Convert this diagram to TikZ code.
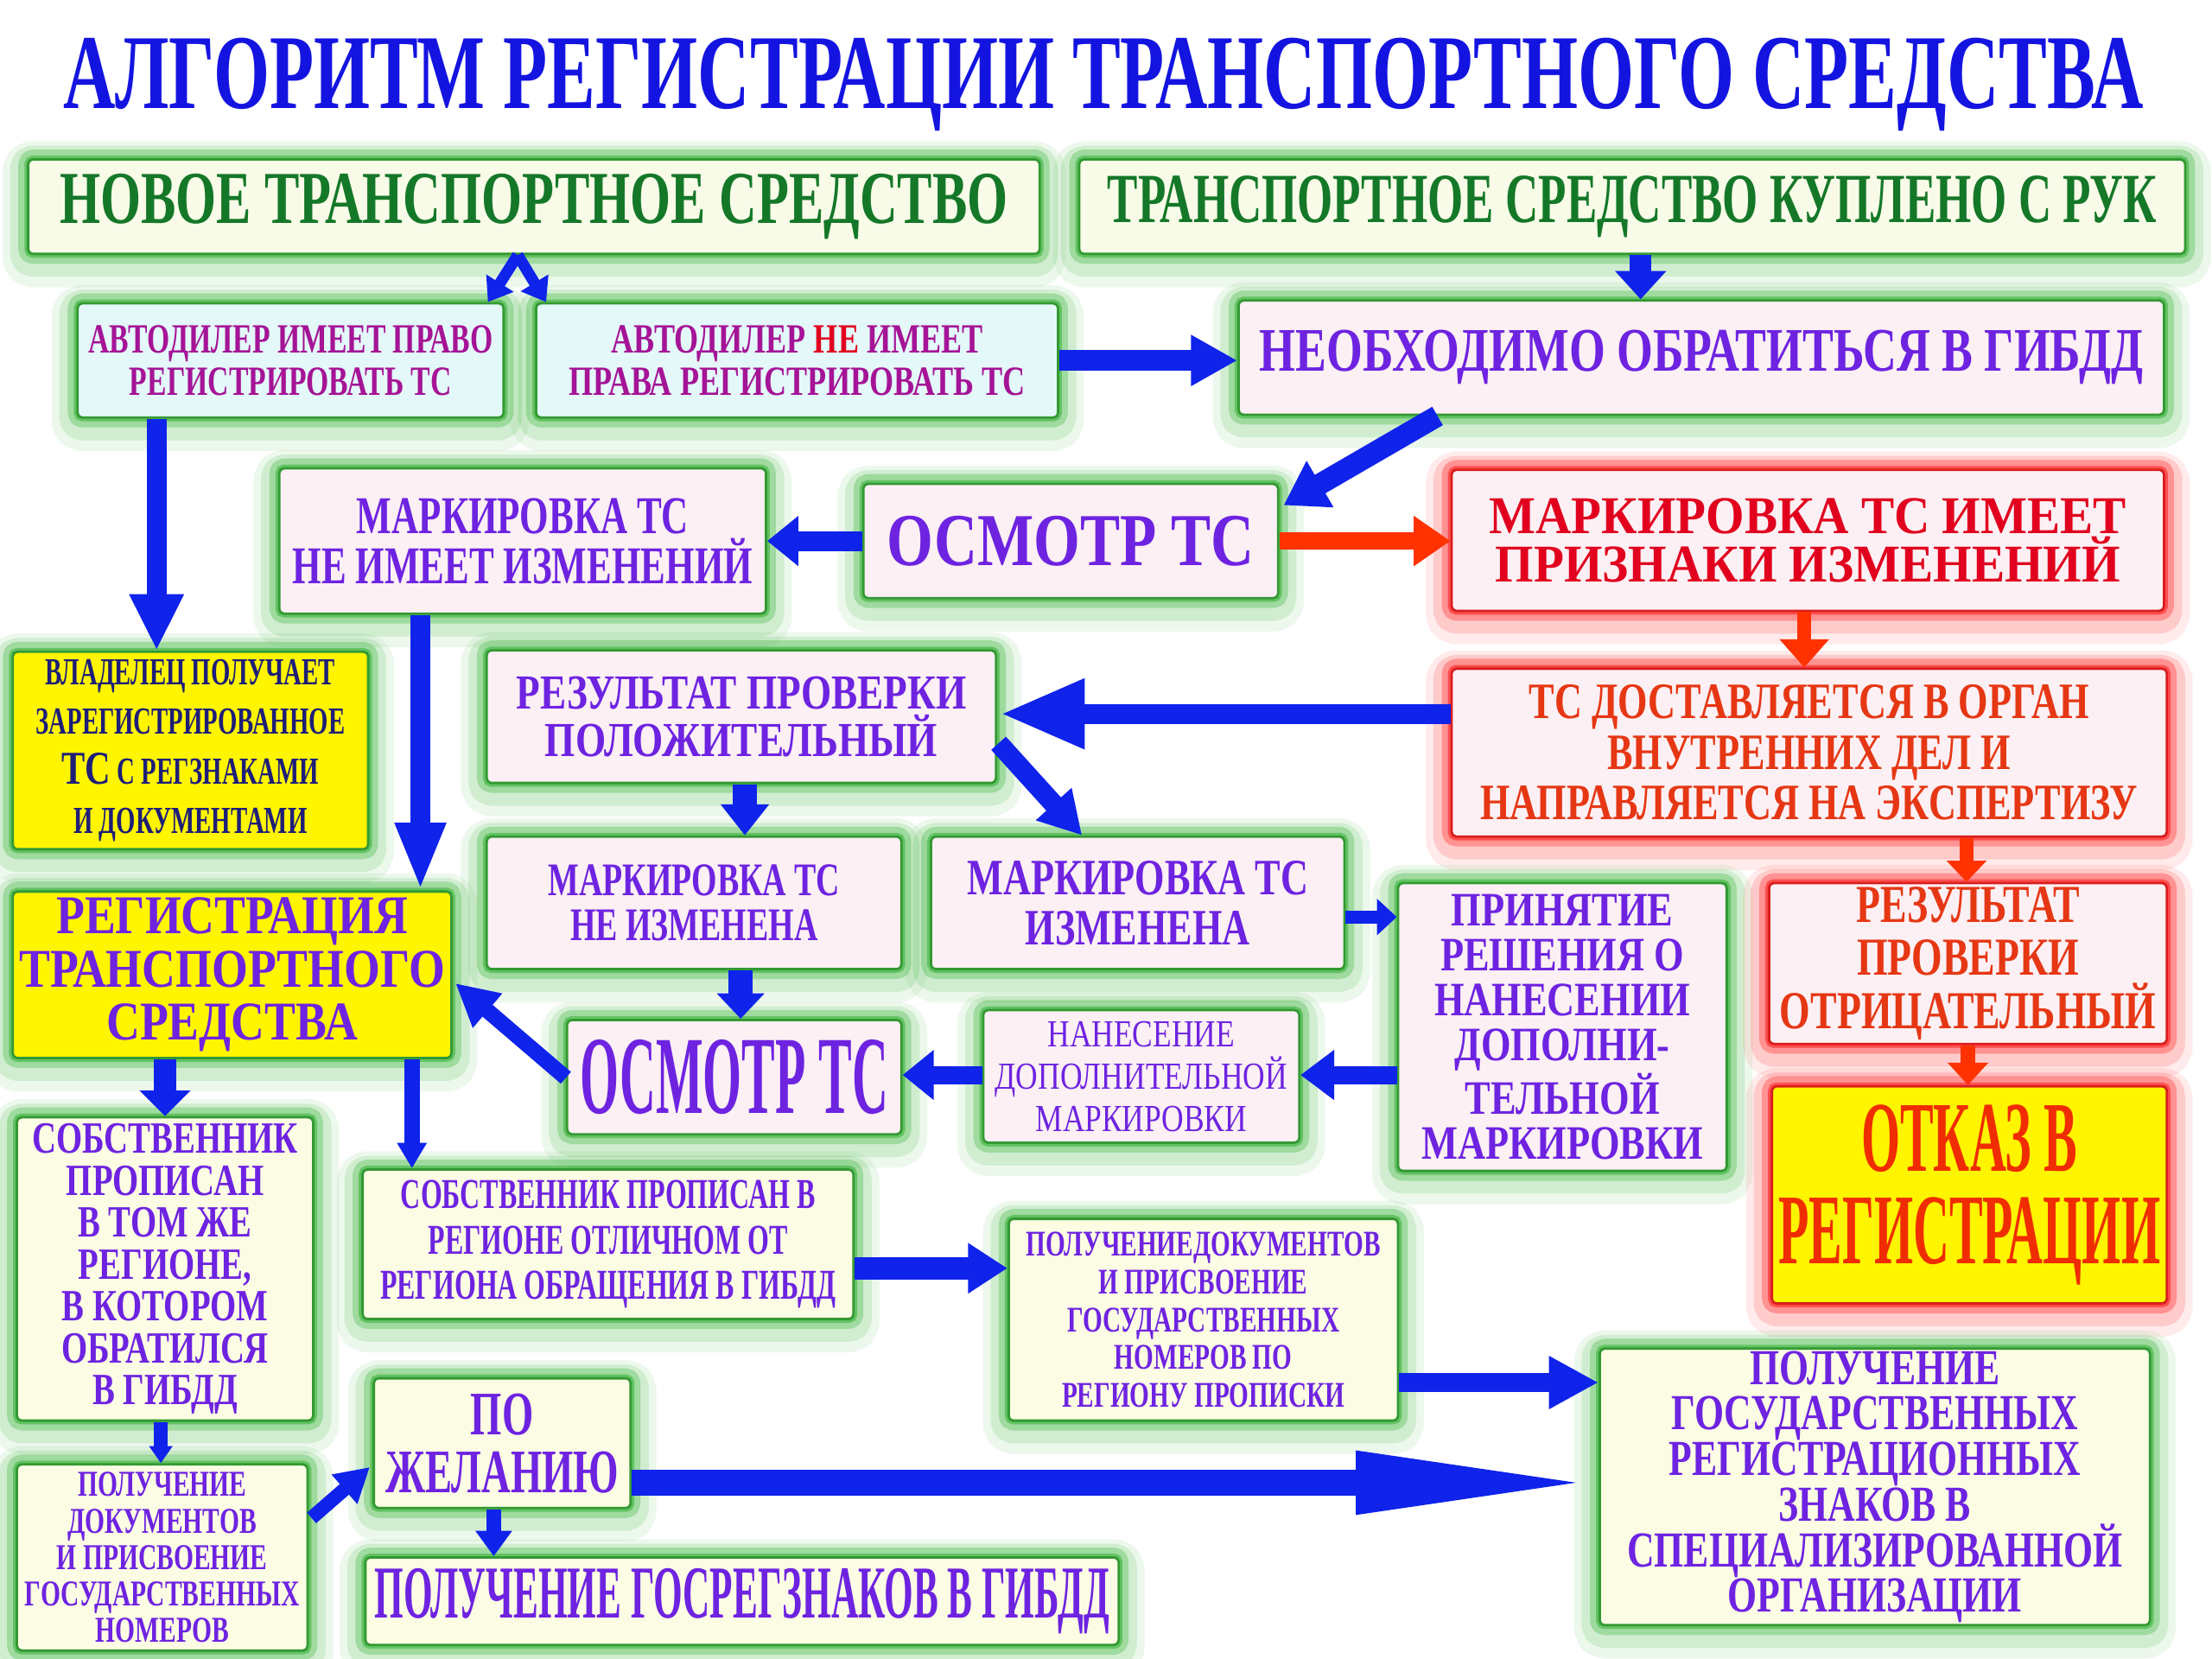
\documentclass[tikz,border=0pt]{standalone}
\usepackage{fontspec}
\setmainfont{Liberation Serif}
\usetikzlibrary{arrows.meta,calc}
\newfontfamily\cfA[FakeStretch=0.45]{Liberation Serif}
\newfontfamily\cfB[FakeStretch=0.5]{Liberation Serif}
\newfontfamily\cfC[FakeStretch=0.65]{Liberation Serif}
\newfontfamily\cfT[FakeStretch=0.68]{Liberation Serif}
\newfontfamily\cfD[FakeStretch=0.7]{Liberation Serif}
\newfontfamily\cfJ[FakeStretch=0.74]{Liberation Serif}
\newfontfamily\cfE[FakeStretch=0.75]{Liberation Serif}
\newfontfamily\cfF[FakeStretch=0.8]{Liberation Serif}
\newfontfamily\cfI[FakeStretch=0.85]{Liberation Serif}
\newfontfamily\cfG[FakeStretch=0.93]{Liberation Serif}
\newcommand\Fn[3]{#1\bfseries\fontsize{#2pt}{#3pt}\selectfont}
\newcommand\Fr[3]{#1\mdseries\fontsize{#2pt}{#3pt}\selectfont}

\definecolor{ablue}{RGB}{15,35,235}
\definecolor{ared}{RGB}{255,50,0}
\definecolor{ttl}{RGB}{20,20,225}
\definecolor{tgreen}{RGB}{20,120,40}
\definecolor{tmag}{RGB}{165,20,150}
\definecolor{tviol}{RGB}{110,35,225}
\definecolor{tred}{RGB}{225,0,30}
\definecolor{tora}{RGB}{230,55,20}
\definecolor{totk}{RGB}{240,45,0}
\definecolor{tnavy}{RGB}{30,30,120}
\definecolor{fcream}{RGB}{248,251,232}
\definecolor{fcream2}{RGB}{252,252,228}
\definecolor{fpink}{RGB}{252,240,244}
\definecolor{fcyan}{RGB}{228,248,250}
\definecolor{fyel}{RGB}{255,245,0}
\definecolor{glg}{RGB}{60,180,60}
\definecolor{glr}{RGB}{255,35,35}

\newcommand\mkbox[8]{%
  \pgfmathsetlengthmacro\bxw{(#5-#3)*0.016327cm}%
  \pgfmathsetlengthmacro\bxh{(#6-#4)*0.016327cm}%
  \node[#2, font={#7}, minimum width=\bxw, minimum height=\bxh] (#1) at ({(#3+#5)/2},{(#4+#6)/2}) {#8};}

\tikzset{
  basebox/.style={rectangle, rounded corners=1.5pt, align=center, inner sep=0pt, line width=0.8pt},
  gglow/.style={basebox, draw=glg!85!black,
    preaction={draw=glg, line width=17pt, opacity=0.09, line join=round, transform canvas={yshift=-2.5pt}},
    preaction={draw=glg, line width=12pt, opacity=0.16, line join=round, transform canvas={yshift=-1.5pt}},
    preaction={draw=glg, line width=6.5pt, opacity=0.33, line join=round},
    preaction={draw=glg, line width=2.5pt, opacity=0.6}},
  rglow/.style={basebox, draw=glr!85!black,
    preaction={draw=glr, line width=17pt, opacity=0.09, line join=round, transform canvas={yshift=-2.5pt}},
    preaction={draw=glr, line width=12pt, opacity=0.16, line join=round, transform canvas={yshift=-1.5pt}},
    preaction={draw=glr, line width=6.5pt, opacity=0.33, line join=round},
    preaction={draw=glr, line width=2.5pt, opacity=0.6}},
  arr/.style n args={3}{draw=ablue, line width=#1, -{Triangle[width=#2,length=#3]}},
}

\begin{document}
\begin{tikzpicture}[x=0.016327cm, y=-0.016327cm]
\fill[white] (0,0) rectangle (1568,1176);
\useasboundingbox (0,0) rectangle (1568,1176);

\node[font={\Fn\cfT{35}{36}}, text=ttl, anchor=base] (title) at (782,77) {АЛГОРИТМ РЕГИСТРАЦИИ ТРАНСПОРТНОГО СРЕДСТВА};

\mkbox{A}{gglow, fill=fcream, text=tgreen}{20}{113}{737}{180}{\Fn\cfD{24.6}{26}}{НОВОЕ ТРАНСПОРТНОЕ СРЕДСТВО}
\mkbox{B}{gglow, fill=fcream, text=tgreen}{765}{113}{1549}{180}{\Fn\cfC{23.2}{25}}{ТРАНСПОРТНОЕ СРЕДСТВО КУПЛЕНО С РУК}
\mkbox{C}{gglow, fill=fcyan, text=tmag}{55}{215}{357}{296}{\Fn\cfD{13.7}{14}}{АВТОДИЛЕР ИМЕЕТ ПРАВО\\РЕГИСТРИРОВАТЬ ТС}
\mkbox{D}{gglow, fill=fcyan, text=tmag}{380}{215}{750}{296}{\Fn\cfE{13.7}{14}}{АВТОДИЛЕР {\color{tred}НЕ} ИМЕЕТ\\ПРАВА РЕГИСТРИРОВАТЬ ТС}
\mkbox{G}{gglow, fill=fpink, text=tviol}{878}{213}{1534}{294}{\Fn\cfE{20.4}{22}}{НЕОБХОДИМО ОБРАТИТЬСЯ В ГИБДД}
\mkbox{MN}{gglow, fill=fpink, text=tviol}{198}{332}{543}{435}{\Fn\cfD{17.5}{16.5}}{МАРКИРОВКА ТС\\НЕ ИМЕЕТ ИЗМЕНЕНИЙ}
\mkbox{O1}{gglow, fill=fpink, text=tviol}{612}{343}{906}{424}{\Fn\cfF{24.6}{26}}{ОСМОТР ТС}
\mkbox{MY}{rglow, fill=fpink, text=tred}{1029}{333}{1534}{433}{\Fn\cfG{17.5}{16}}{МАРКИРОВКА ТС ИМЕЕТ\\ПРИЗНАКИ ИЗМЕНЕНИЙ}
\mkbox{V}{gglow, fill=fyel, text=tnavy}{9}{462}{261}{602}{\Fn\cfC{12.6}{16.3}}{ВЛАДЕЛЕЦ ПОЛУЧАЕТ\\ЗАРЕГИСТРИРОВАННОЕ\\{\cfE\bfseries\fontsize{15.5pt}{16.3pt}\selectfont ТС} С РЕГЗНАКАМИ\\И ДОКУМЕНТАМИ}
\mkbox{RP}{gglow, fill=fpink, text=tviol}{345}{461}{706}{555}{\Fn\cfF{16.1}{15.5}}{РЕЗУЛЬТАТ ПРОВЕРКИ\\ПОЛОЖИТЕЛЬНЫЙ}
\mkbox{TD}{rglow, fill=fpink, text=tora}{1029}{474}{1536}{593}{\Fn\cfE{16.8}{16.7}}{ТС ДОСТАВЛЯЕТСЯ В ОРГАН\\ВНУТРЕННИХ ДЕЛ И\\НАПРАВЛЯЕТСЯ НА ЭКСПЕРТИЗУ}
\mkbox{R}{gglow, fill=fyel, text=tviol}{9}{632}{320}{750}{\Fn\cfI{18}{17.5}}{РЕГИСТРАЦИЯ\\ТРАНСПОРТНОГО\\СРЕДСТВА}
\mkbox{MNI}{gglow, fill=fpink, text=tviol}{345}{593}{639}{687}{\Fn\cfD{15.4}{15}}{МАРКИРОВКА ТС\\НЕ ИЗМЕНЕНА}
\mkbox{MI}{gglow, fill=fpink, text=tviol}{660}{593}{953}{687}{\Fn\cfE{16.8}{16.5}}{МАРКИРОВКА ТС\\ИЗМЕНЕНА}
\mkbox{PR}{gglow, fill=fpink, text=tviol}{991}{626}{1224}{830}{\Fn\cfF{15.8}{14.8}}{ПРИНЯТИЕ\\РЕШЕНИЯ О\\НАНЕСЕНИИ\\ДОПОЛНИ-\\ТЕЛЬНОЙ\\МАРКИРОВКИ}
\mkbox{RN}{rglow, fill=fpink, text=tora}{1254}{626}{1536}{740}{\Fn\cfJ{17.6}{17.6}}{РЕЗУЛЬТАТ\\ПРОВЕРКИ\\ОТРИЦАТЕЛЬНЫЙ}
\mkbox{O2}{gglow, fill=fpink, text=tviol}{402}{723}{639}{804}{\Fn\cfA{36.6}{38}}{ОСМОТР ТС}
\mkbox{NA}{gglow, fill=fpink, text=tviol}{697}{716}{921}{810}{\Fr\cfF{12.6}{13.9}}{НАНЕСЕНИЕ\\ДОПОЛНИТЕЛЬНОЙ\\МАРКИРОВКИ}
\mkbox{OT}{rglow, fill=fyel, text=totk}{1256}{770}{1536}{924}{\Fn\cfB{33}{30.5}}{ОТКАЗ В\\РЕГИСТРАЦИИ}
\mkbox{S1}{gglow, fill=fcream2, text=tviol}{12}{792}{222}{1007}{\Fn\cfE{14.7}{13.8}}{СОБСТВЕННИК\\ПРОПИСАН\\В ТОМ ЖЕ\\РЕГИОНЕ,\\В КОТОРОМ\\ОБРАТИЛСЯ\\В ГИБДД}
\mkbox{S2}{gglow, fill=fcream2, text=tviol}{257}{829}{605}{935}{\Fn\cfC{14}{15}}{СОБСТВЕННИК ПРОПИСАН В\\РЕГИОНЕ ОТЛИЧНОМ ОТ\\РЕГИОНА ОБРАЩЕНИЯ В ГИБДД}
\mkbox{PDR}{gglow, fill=fcream2, text=tviol}{715}{864}{991}{1007}{\Fn\cfD{11.9}{12.5}}{ПОЛУЧЕНИЕДОКУМЕНТОВ\\И ПРИСВОЕНИЕ\\ГОСУДАРСТВЕННЫХ\\НОМЕРОВ ПО\\РЕГИОНУ ПРОПИСКИ}
\mkbox{PD}{gglow, fill=fcream2, text=tviol}{12}{1038}{218}{1170}{\Fn\cfD{12}{12}}{ПОЛУЧЕНИЕ\\ДОКУМЕНТОВ\\И ПРИСВОЕНИЕ\\ГОСУДАРСТВЕННЫХ\\НОМЕРОВ}
\mkbox{PZ}{gglow, fill=fcream2, text=tviol}{265}{977}{447}{1069}{\Fn\cfC{20.4}{19}}{ПО\\ЖЕЛАНИЮ}
\mkbox{PG}{gglow, fill=fcream2, text=tviol}{259}{1104}{793}{1166}{\Fn\cfB{24.6}{26}}{ПОЛУЧЕНИЕ ГОСРЕГЗНАКОВ В ГИБДД}
\mkbox{BB}{gglow, fill=fcream2, text=tviol}{1134}{956}{1524}{1152}{\Fn\cfE{16.6}{15}}{ПОЛУЧЕНИЕ\\ГОСУДАРСТВЕННЫХ\\РЕГИСТРАЦИОННЫХ\\ЗНАКОВ В\\СПЕЦИАЛИЗИРОВАННОЙ\\ОРГАНИЗАЦИИ}

% arrows
\draw[arr={3.7pt}{10.2pt}{7.4pt}] ($(A.south)+(-11.5,0)$) -- ($(C.north east)+(-12,0)$);
\draw[arr={3.7pt}{10.2pt}{7.4pt}] ($(A.south)+(-11.5,0)$) -- ($(D.north west)+(8,0)$);
\draw[arr={7pt}{16.3pt}{9.3pt}] ($(B.south)+(6,0)$) -- ($(G.north)+(-43,0)$);
\draw[arr={7pt}{15.8pt}{15.3pt}] (D.east) -- (D.east -| G.west);
\draw[arr={6.5pt}{16.7pt}{18.6pt}] ($(C.south)+(-95,0)$) -- ($(V.north)+(-24,0)$);
\draw[arr={7pt}{16.7pt}{13.9pt}] ($(G.south)+(-187,0)$) -- ($(O1.north east)+(3,16)$);
\draw[arr={6.5pt}{15.8pt}{10.2pt}] (O1.west) -- (O1.west -| MN.east);
\draw[arr={5.6pt}{15.8pt}{12.1pt}, draw=ared] (O1.east) -- (O1.east -| MY.west);
\draw[arr={4.6pt}{15.8pt}{9.3pt}, draw=ared] ($(MY.south)+(-2.5,0)$) -- ($(TD.north)+(-3.5,0)$);
\draw[arr={6.5pt}{21.4pt}{27.9pt}] ($(TD.west)+(0,-27.5)$) -- ($(RP.east)+(2,-2)$);
\draw[arr={6.5pt}{15.3pt}{22.3pt}] ($(MN.south)+(-72.5,0)$) -- ($(R.north)+(133.5,0)$);
\draw[arr={7.9pt}{15.3pt}{10.2pt}] ($(RP.south)+(2.5,0)$) -- ($(MNI.north)+(36,0)$);
\draw[arr={6.5pt}{14.9pt}{13.9pt}] ($(RP.south east)+(1,-29)$) -- ($(MI.north)+(-39.5,0)$);
\draw[arr={7.9pt}{15.3pt}{8.4pt}] ($(MNI.south)+(33,0)$) -- ($(O2.north)+(4.5,0)$);
\draw[arr={4.2pt}{11.6pt}{6.5pt}] ($(MI.east)+(0,10)$) -- ($(PR.west)+(0,-78)$);
\draw[arr={6pt}{15.8pt}{11.1pt}] ($(PR.west)+(0,34)$) -- ($(NA.east)+(0,-1)$);
\draw[arr={6pt}{15.8pt}{10.2pt}] ($(NA.west)+(0,-1)$) -- ($(O2.east)+(0,-1.5)$);
\draw[arr={5.1pt}{13.9pt}{13.9pt}] ($(O2.west)+(0,0.5)$) -- ($(R.east)+(2,6)$);
\draw[arr={4.6pt}{12.8pt}{7pt}, draw=ared] ($(TD.south)+(111.5,0)$) -- ($(RN.north)+(-1,0)$);
\draw[arr={4.6pt}{13pt}{7.4pt}, draw=ared] (RN.south) -- ($(OT.north)+(-1,0)$);
\draw[arr={7.4pt}{16.3pt}{8.4pt}] ($(R.south)+(-47.5,0)$) -- (S1.north);
\draw[arr={5.1pt}{9.3pt}{8.4pt}] ($(R.south)+(127.5,0)$) -- ($(S2.north)+(-139,0)$);
\draw[arr={7.4pt}{15.8pt}{13pt}] ($(S2.east)+(0,17)$) -- ($(PDR.west)+(0,-36.5)$);
\draw[arr={4.6pt}{7.4pt}{5.6pt}] ($(S1.south)+(-3,0)$) -- ($(PD.north)+(-1,0)$);
\draw[arr={4.6pt}{12.1pt}{11.1pt}] ($(PD.east)+(2,-28)$) -- ($(PZ.west)+(-2,17)$);
\draw[arr={4.6pt}{11.6pt}{8.4pt}] ($(PZ.south)+(-6,0)$) -- ($(PG.north)+(-176,0)$);
\draw[arr={8.4pt}{18.6pt}{79.9pt}] ($(PZ.east)+(0,28)$) -- ($(BB.west)+(0,-3)$);
\draw[arr={6.5pt}{16.3pt}{16.3pt}] ($(PDR.east)+(0,44.5)$) -- ($(BB.west)+(0,-74)$);
\end{tikzpicture}
\end{document}
